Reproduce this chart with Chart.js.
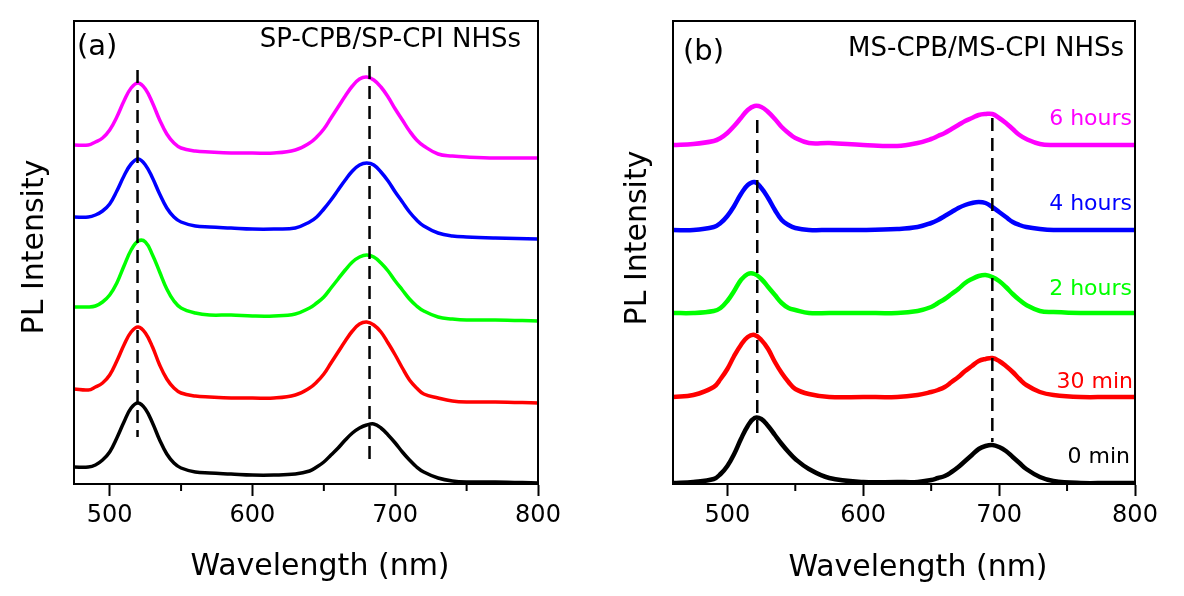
<!DOCTYPE html>
<html>
<head>
<meta charset="utf-8">
<script src="https://cdn.jsdelivr.net/npm/chart.js@4.4.1/dist/chart.umd.min.js"></script>
<style>
  html, body { margin: 0; padding: 0; background: #fff; }
  #wrap { position: relative; width: 1184px; height: 596px; }
  .panel { position: absolute; top: 0; width: 592px; height: 596px; }
</style>
</head>
<body>
<div id="wrap">
  <div class="panel" style="left:0"><canvas id="chartA" width="592" height="596"></canvas></div>
  <div class="panel" style="left:592px"><canvas id="chartB" width="592" height="596"></canvas></div>
</div>
<script>
// PL intensity in arbitrary units, curves offset vertically as in the figure
const xTicks = [500, 600, 700, 800];
const xMinorTicks = [550, 650, 750];

// (a) SP-CPB/SP-CPI
const wlA = [475,485,490,495,500,505,510,515,520,525,530,535,540,545,550,560,570,585,600,615,630,640,645,650,655,660,665,670,675,680,685,690,695,700,705,710,715,720,730,740,750,770,800];
const spBlack   = [17,17,19,24,32,46,62,76,81,75,61,44,30,21,16,12,11,10,9,9,10,13,17,22,29,36,44,51,56,59,60,56,49,41,32,24,17,12,6,3,2,2,1];
const spRed     = [95,94,97,101,109,123,139,152,157,151,137,119,105,96,91,88,87,86,86,86,89,96,102,110,121,132,143,153,160,162,159,152,141,129,116,104,96,90,86,83,82,82,81];
const spGreen   = [177,177,178,182,189,201,218,234,243,242,229,212,195,183,176,171,169,169,168,168,170,176,181,187,196,205,214,222,227,229,227,221,213,203,194,185,178,173,167,165,164,164,163];
const spBlue    = [267,267,269,273,280,293,308,320,325,319,306,290,276,267,262,258,257,256,255,255,256,262,267,275,284,294,304,313,319,321,319,312,303,292,282,272,264,258,251,248,247,246,245];
const spMagenta = [339,339,342,346,354,367,383,396,401,395,381,364,350,341,336,333,332,331,331,331,334,341,347,355,366,377,388,398,405,407,404,397,387,375,364,353,344,338,330,328,327,326,326];
const dashA_x = [519.5, 682];
const dashA_top = [414, 418];
const dashA_bottom = [47, 23];

// (b) MS-CPB/MS-CPI
const wlB = [460,475,490,495,500,505,510,515,520,525,530,535,540,545,550,560,575,600,625,640,650,655,660,665,670,675,680,685,690,695,700,705,710,715,720,730,740,760,780,800];
const msBlack   = [1,2,5,10,18,30,45,58,66,65,58,49,40,32,25,15,6,2,2,2,4,6,8,12,17,23,29,35,38,39,37,33,27,21,15,7,3,1,1,1];
const msRed     = [87,89,97,105,115,128,139,147,149,144,135,122,111,102,95,90,87,87,87,89,92,94,97,102,107,113,118,123,125,126,123,118,112,105,99,92,89,87,87,87];
const msGreen   = [171,171,173,176,183,193,204,210,210,205,197,189,181,176,174,171,171,171,171,173,177,181,185,190,195,201,205,208,209,207,203,197,190,184,179,173,172,171,171,171];
const msBlue    = [254,254,257,261,268,278,290,299,302,296,286,274,264,259,256,254,254,254,255,257,261,264,268,272,276,279,281,282,281,277,272,267,262,259,257,255,254,254,254,254];
const msMagenta = [339,340,343,346,351,358,366,374,378,377,372,365,357,351,346,341,341,339,338,341,345,348,351,355,359,363,366,369,370,370,366,361,355,349,345,340,339,339,339,339];
const dashB_x = [522, 695];
const dashB_top = [364, 366];
const dashB_bottom = [51, 42];

const timeLabels = ['0 min', '30 min', '2 hours', '4 hours', '6 hours'];

const FONT = '"DejaVu Sans", Verdana, sans-serif';
const colors = ['#000000', '#ff0000', '#00ff00', '#0000ff', '#ff00ff'];

function curveSets(wl, series, width) {
  return series.map((vals, i) => ({
    data: wl.map((x, j) => ({ x, y: vals[j] })),
    borderColor: colors[i], borderWidth: width,
    pointRadius: 0, tension: 0.4, borderJoinStyle: 'round', order: 2,
  }));
}

function dashSets(xs, tops, bottoms) {
  return xs.map((x, i) => ({
    data: [{ x, y: tops[i] }, { x, y: bottoms[i] }],
    borderColor: '#000', borderWidth: 2.5, borderDash: [13, 7],
    pointRadius: 0, order: 1,
  }));
}

// box round the plot, minor ticks and the free texts
const frame = {
  id: 'frame',
  afterDraw(chart, args, opts) {
    const { ctx, chartArea: a } = chart;
    const x = chart.scales.x;
    ctx.save();
    ctx.strokeStyle = '#000';
    ctx.lineWidth = 2;
    ctx.strokeRect(a.left, a.top, a.right - a.left, a.bottom - a.top);
    ctx.beginPath();
    xMinorTicks.forEach(v => {
      const px = x.getPixelForValue(v);
      ctx.moveTo(px, a.bottom);
      ctx.lineTo(px, a.bottom + 7);
    });
    ctx.stroke();
    opts.texts.forEach(t => {
      ctx.font = t.font;
      ctx.fillStyle = t.color || '#000';
      ctx.textAlign = t.align || 'left';
      ctx.textBaseline = 'alphabetic';
      if (t.rotate) {
        ctx.save();
        ctx.translate(t.x, t.y);
        ctx.rotate(-Math.PI / 2);
        ctx.fillText(t.text, 0, 0);
        ctx.restore();
      } else {
        ctx.fillText(t.text, t.x, t.y);
      }
    });
    ctx.restore();
  }
};

function makeOptions(xmin, padLeft, padRight, texts) {
  return {
    responsive: false, animation: false, events: [],
    layout: { padding: { left: padLeft, right: padRight, top: 21, bottom: 0 } },
    plugins: { legend: { display: false }, tooltip: { enabled: false }, frame: { texts } },
    scales: {
      x: {
        type: 'linear', min: xmin, max: 800,
        afterBuildTicks: s => { s.ticks = xTicks.map(v => ({ value: v })); },
        afterFit: s => { s.height = 112; },
        grid: { drawOnChartArea: false, drawTicks: true, tickLength: 12, tickWidth: 2, tickColor: '#000' },
        border: { display: true, color: '#000', width: 2 },
        ticks: { color: '#000', font: { family: FONT, size: 24 }, padding: 5, maxRotation: 0, autoSkip: false },
      },
      y: { display: false, min: 0, max: 463 },
    },
  };
}

new Chart(document.getElementById('chartA'), {
  type: 'line',
  data: { datasets: [
    ...curveSets(wlA, [spBlack, spRed, spGreen, spBlue, spMagenta], 3.5),
    ...dashSets(dashA_x, dashA_top, dashA_bottom),
  ]},
  options: makeOptions(475, 74, 54, [
    { text: '(a)', x: 77, y: 55, font: `29px ${FONT}` },
    { text: 'SP-CPB/SP-CPI NHSs', x: 521, y: 47, font: `26px ${FONT}`, align: 'right' },
    { text: 'Wavelength (nm)', x: 320, y: 575, font: `30px ${FONT}`, align: 'center' },
    { text: 'PL Intensity', x: 43, y: 247, font: `30px ${FONT}`, align: 'center', rotate: true },
  ]),
  plugins: [frame],
});

new Chart(document.getElementById('chartB'), {
  type: 'line',
  data: { datasets: [
    ...curveSets(wlB, [msBlack, msRed, msGreen, msBlue, msMagenta], 4.5),
    ...dashSets(dashB_x, dashB_top, dashB_bottom),
  ]},
  options: makeOptions(460, 81, 49, [
    { text: '(b)', x: 91, y: 60, font: `29px ${FONT}` },
    { text: 'MS-CPB/MS-CPI NHSs', x: 532, y: 56, font: `26px ${FONT}`, align: 'right' },
    { text: 'Wavelength (nm)', x: 326, y: 576, font: `30px ${FONT}`, align: 'center' },
    { text: 'PL Intensity', x: 54, y: 238, font: `30px ${FONT}`, align: 'center', rotate: true },
    { text: timeLabels[4], x: 540, y: 125, font: `22px ${FONT}`, align: 'right', color: colors[4] },
    { text: timeLabels[3], x: 540, y: 210, font: `22px ${FONT}`, align: 'right', color: colors[3] },
    { text: timeLabels[2], x: 540, y: 295, font: `22px ${FONT}`, align: 'right', color: colors[2] },
    { text: timeLabels[1], x: 541, y: 388, font: `22px ${FONT}`, align: 'right', color: colors[1] },
    { text: timeLabels[0], x: 538, y: 463, font: `22px ${FONT}`, align: 'right', color: colors[0] },
  ]),
  plugins: [frame],
});
</script>
</body>
</html>
